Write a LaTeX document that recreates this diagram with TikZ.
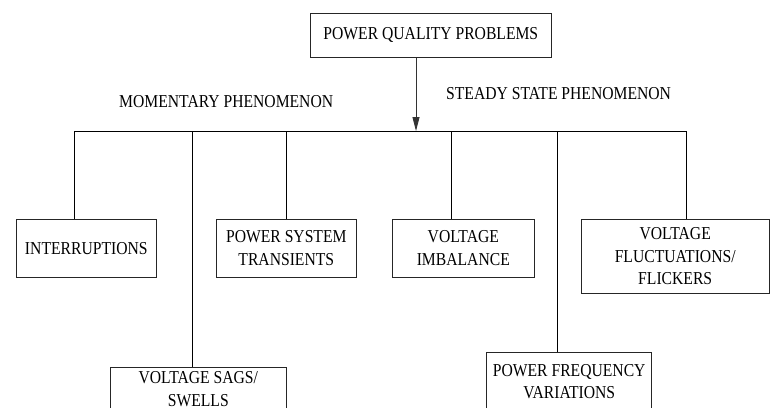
\documentclass[tikz,border=0pt]{standalone}
\usepackage{fontspec}
\setmainfont{Liberation Serif}[FakeStretch=0.86]
\usetikzlibrary{arrows.meta}
\tikzset{
  pqbox/.style={draw=black!85, line width=0.9pt, align=center, inner sep=2pt,
    font=\fontsize{18.2}{22.5}\selectfont},
  pqlabel/.style={inner sep=0pt, anchor=west, font=\fontsize{18.2}{22.5}\selectfont},
  pqline/.style={draw=black, line width=0.75pt},
  pqarrow/.style={draw=black!80, line width=0.9pt, -{Triangle[length=14pt,width=7pt]}}
}
\begin{document}
\begin{tikzpicture}[x=1pt,y=-1pt]
\useasboundingbox (0,0) rectangle (770,407);
\clip (0,0) rectangle (770,407);
\fill[white] (0,0) rectangle (770,407);

\node[pqbox, minimum width=241.7pt, minimum height=44pt] (top) at (430.8,35.3) {POWER QUALITY PROBLEMS};

\node[pqlabel] (mom) at (119,102) {MOMENTARY PHENOMENON};
\node[pqlabel] (ste) at (446,93.7) {STEADY STATE PHENOMENON};

\node[pqbox, minimum width=140.7pt, minimum height=58pt] (int) at (86.3,248.3) {INTERRUPTIONS};
\node[pqbox, minimum width=140.7pt, minimum height=58pt] (tra) at (286.3,248.3) {POWER SYSTEM\\TRANSIENTS};
\node[pqbox, minimum width=141.3pt, minimum height=58pt] (imb) at (463.3,248.3) {VOLTAGE\\IMBALANCE};
\node[pqbox, minimum width=188.3pt, minimum height=74pt] (flu) at (675.2,256.3) {VOLTAGE\\FLUCTUATIONS/\\FLICKERS};
\node[pqbox, minimum width=176.7pt, minimum height=44pt] (sag) at (198.3,389.3) {VOLTAGE SAGS/\\SWELLS};
\node[pqbox, minimum width=165pt, minimum height=58.4pt] (frq) at (569.2,381.5) {POWER FREQUENCY\\VARIATIONS};

\coordinate (arr) at (416,131);
\coordinate (b1) at (74,131);
\coordinate (b2) at (192.5,131);
\coordinate (b3) at (286.5,131);
\coordinate (b4) at (451.7,131);
\coordinate (b5) at (557.3,131);
\coordinate (b6) at (686.7,131);

\draw[pqline] (b1) -- (b6);
\draw[pqarrow] (arr |- top.south) -- (arr);
\draw[pqline] (b1) -- (b1 |- int.north);
\draw[pqline] (b2) -- (b2 |- sag.north);
\draw[pqline] (b3) -- (b3 |- tra.north);
\draw[pqline] (b4) -- (b4 |- imb.north);
\draw[pqline] (b5) -- (b5 |- frq.north);
\draw[pqline] (b6) -- (b6 |- flu.north);
\end{tikzpicture}
\end{document}
